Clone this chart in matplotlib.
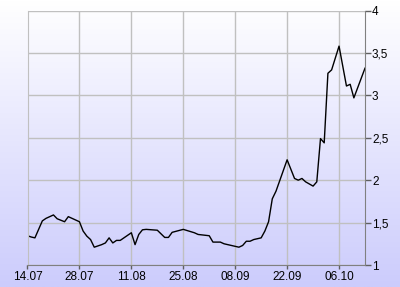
import numpy as np
import pandas as pd
import matplotlib
matplotlib.use("Agg")
import matplotlib.pyplot as plt
import matplotlib.dates as mdates

dates = ["07-14", "07-15", "07-16", "07-17", "07-18", "07-19", "07-21", "07-22", "07-24", "07-25",
         "07-27", "07-28", "07-29", "07-30", "07-31", "08-01", "08-03", "08-04", "08-05", "08-06",
         "08-07", "08-08", "08-11", "08-12", "08-13", "08-14", "08-15", "08-18", "08-20", "08-21",
         "08-22", "08-25", "08-28", "08-29", "09-01", "09-02", "09-04", "09-05", "09-07", "09-09",
         "09-10", "09-11", "09-12", "09-13", "09-15", "09-16", "09-17", "09-18", "09-19", "09-22",
         "09-24", "09-25", "09-26", "09-27", "09-29", "09-30", "10-01", "10-02", "10-03", "10-04",
         "10-06", "10-08", "10-09", "10-10", "10-13"]
values = [1.345, 1.33, 1.32, 1.42, 1.52, 1.55, 1.59, 1.545, 1.51, 1.57,
          1.53, 1.51, 1.40, 1.34, 1.30, 1.21, 1.24, 1.26, 1.32, 1.26,
          1.29, 1.29, 1.38, 1.24, 1.36, 1.415, 1.42, 1.41, 1.325, 1.325,
          1.385, 1.42, 1.38, 1.36, 1.345, 1.27, 1.27, 1.25, 1.23, 1.21,
          1.23, 1.28, 1.28, 1.30, 1.32, 1.40, 1.51, 1.78, 1.87, 2.24,
          2.02, 2.00, 2.02, 1.98, 1.93, 1.98, 2.49, 2.44, 3.26, 3.30,
          3.58, 3.11, 3.13, 2.97, 3.32]
x_ticks = ["07-14", "07-28", "08-11", "08-25", "09-08", "09-22", "10-06"]
x_tick_labels = ["14.07", "28.07", "11.08", "25.08", "08.09", "22.09", "06.10"]
y_ticks = [1, 1.5, 2, 2.5, 3, 3.5, 4]
y_tick_labels = ["1", "1,5", "2", "2,5", "3", "3,5", "4"]
year = "2008-"
x_start, x_end = "07-14", "10-13"

plt.rcParams['font.family'] = ['Liberation Sans', 'DejaVu Sans']

x = pd.to_datetime([year + d for d in dates])
xt = pd.to_datetime([year + d for d in x_ticks])

fig = plt.figure(figsize=(4.0, 2.87), dpi=100)
# gradient background over the whole figure
bg = fig.add_axes([0, 0, 1, 1], zorder=-10)
grad = np.linspace(0, 1, 256).reshape(-1, 1)
top = np.array([1.0, 1.0, 1.0])
bot = np.array([0.80, 0.80, 0.99])
img = top[None, None, :] * (1 - grad[:, :, None]) + bot[None, None, :] * grad[:, :, None]
bg.imshow(img, aspect='auto', extent=[0, 1, 0, 1])
bg.axis('off')

W, H = 400, 287
left, right, top_px, bottom_px = 27.5, 365, 10.5, 265
ax = fig.add_axes([left / W, (H - bottom_px) / H, (right - left) / W, (bottom_px - top_px) / H])
ax.patch.set_alpha(0)
ax.plot(x, values, color='black', lw=1.0)
ax.set_xlim(pd.Timestamp(year + x_start), pd.Timestamp(year + x_end))
ax.set_ylim(1, 4)
ax.set_xticks(xt)
ax.set_xticklabels(x_tick_labels)
ax.set_yticks(y_ticks)
ax.set_yticklabels(y_tick_labels)
ax.yaxis.tick_right()
ax.grid(True, color='#c0c0c0', lw=1.0)
ax.set_axisbelow(True)
for s in ['top']:
    ax.spines[s].set_visible(False)
ax.spines['left'].set_color('#c0c0c0')
ax.spines['bottom'].set_color('#808080')
ax.spines['right'].set_color('#808080')
ax.tick_params(axis='y', which='both', direction='out', length=4, width=1, colors='#606060',
               labelcolor='black', labelsize=8.5, pad=1)
ax.tick_params(axis='x', which='both', direction='out', length=3, width=1, colors='#606060',
               labelcolor='black', labelsize=8.5, pad=1)

fig.savefig('out.png', dpi=100)
